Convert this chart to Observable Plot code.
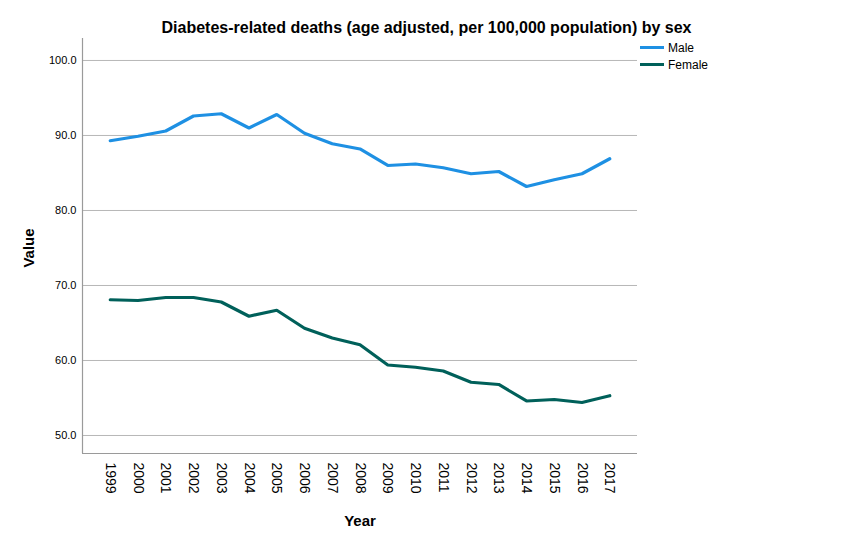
<!DOCTYPE html>
<html>
<head>
<meta charset="utf-8">
<script src="https://cdn.jsdelivr.net/npm/d3@7"></script>
<script src="https://cdn.jsdelivr.net/npm/@observablehq/plot@0.6"></script>
<style>
  body { margin: 0; background: #fff; font-family: "Liberation Sans", Arial, sans-serif; }
  #wrap { position: relative; width: 853px; height: 543px; }
  .abs { position: absolute; white-space: nowrap; color: #000; }
  #title { left: 0; width: 853px; top: 19px; text-align: center; font-size: 16px; font-weight: bold; }
  #ylab { left: 28px; top: 248px; font-size: 15px; font-weight: bold; transform: translate(-50%, -50%) rotate(-90deg); }
  #xlab { left: 360px; top: 520px; font-size: 15px; font-weight: bold; transform: translate(-50%, -50%); }
  #legend { left: 640px; top: 39px; font-size: 12px; }
  .lg { display: flex; align-items: center; height: 17px; }
  .sw { width: 24px; height: 3px; margin-right: 4px; }
</style>
</head>
<body>
<div id="wrap"></div>
<script>
const years = [1999,2000,2001,2002,2003,2004,2005,2006,2007,2008,2009,2010,2011,2012,2013,2014,2015,2016,2017];
const male = [89.3,89.9,90.6,92.6,92.9,91.0,92.8,90.3,88.9,88.2,86.0,86.2,85.7,84.9,85.2,83.2,84.1,84.9,86.9];
const female = [68.1,68.0,68.4,68.4,67.8,65.9,66.7,64.3,63.0,62.1,59.4,59.1,58.6,57.1,56.8,54.6,54.8,54.4,55.3];
const series = ["Male", "Female"];
const colors = ["#1e90e3", "#00605a"];
const yTicks = [50, 60, 70, 80, 90, 100];
const xDomain = [1998, 2018];
const yDomain = [47.6, 102.93];
const titleText = "Diabetes-related deaths (age adjusted, per 100,000 population) by sex";

const data = [];
years.forEach((y, i) => {
  data.push({year: y, value: male[i], sex: "Male"});
  data.push({year: y, value: female[i], sex: "Female"});
});

const chart = Plot.plot({
  width: 853,
  height: 543,
  marginLeft: 82,
  marginRight: 216,
  marginTop: 38,
  marginBottom: 90,
  style: {fontFamily: "'Liberation Sans', Arial, sans-serif", background: "#fff"},
  x: {domain: xDomain, label: null},
  y: {domain: yDomain, label: null},
  color: {domain: series, range: colors},
  marks: [
    Plot.gridY(yTicks, {stroke: "#b8b8b8", strokeOpacity: 1}),
    Plot.ruleX([xDomain[0]], {stroke: "#9a9a9a", strokeWidth: 1.2}),
    Plot.ruleY([yDomain[0]], {stroke: "#9a9a9a", strokeWidth: 1.2}),
    Plot.axisY(yTicks, {tickSize: 0, tickPadding: 6, tickFormat: d3.format(".1f"), fontSize: 11, label: null}),
    Plot.axisX(years, {tickSize: 0, tickPadding: 9, tickRotate: 90, tickFormat: d => String(d), fontSize: 14, label: null}),
    Plot.line(data, {x: "year", y: "value", z: "sex", stroke: "sex", strokeWidth: 3.2, strokeLinejoin: "miter"})
  ]
});

const wrap = document.getElementById("wrap");
wrap.appendChild(chart);

function addDiv(id, text) {
  const d = document.createElement("div");
  d.id = id; d.className = "abs"; d.textContent = text;
  wrap.appendChild(d);
  return d;
}
addDiv("title", titleText);
addDiv("ylab", "Value");
addDiv("xlab", "Year");
const lg = document.createElement("div");
lg.id = "legend"; lg.className = "abs";
series.forEach((s, i) => {
  const row = document.createElement("div");
  row.className = "lg";
  const sw = document.createElement("div");
  sw.className = "sw"; sw.style.background = colors[i];
  const t = document.createElement("span");
  t.textContent = s;
  row.appendChild(sw); row.appendChild(t);
  lg.appendChild(row);
});
wrap.appendChild(lg);
</script>
</body>
</html>
